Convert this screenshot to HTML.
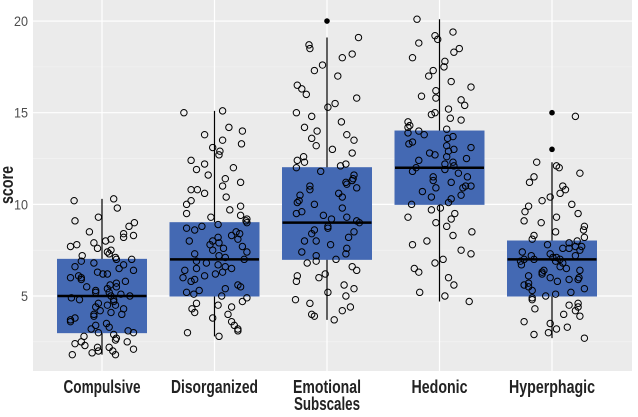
<!DOCTYPE html><html><head><meta charset="utf-8"><style>body{margin:0;background:#fff}svg{font-family:"Liberation Sans Narrow","Liberation Sans",sans-serif}</style></head><body>
<svg id="c" width="638" height="412"></svg>
<script>
const categories=["Compulsive","Disorganized","Emotional","Hedonic","Hyperphagic"];
const labelWidths=[77,87,68,56,86];
const q1=[3,5,7,10,5];
const medians=[5,7,9,12,7];
const q3=[7,9,12,14,8];
const whiskLo=[1.8,2.8,3.7,4.7,2.7];
const whiskHi=[10.3,15.1,19.1,20.1,12.3];
const outliers=[[],[],[20],[],[13,15]];
const yTicks=[5,10,15,20];
const pts=[
[1.8,2,2.2,2.5,2.8,3,3.2,3.5,3.8,4,4.2,4.5,4.8,5,5.2,5.5,5.8,6,6.2,6.5,6.8,7,7.2,7.5,7.8,8,8.2,8.5,9,9.3,9.8,10.2,10.3,2.3,3.1,4.4,5.1,6.1,7.4,8.8,1.9,2.7,4.9,5.6,6.9],
[2.8,3,3.4,3.8,4,4.3,4.7,5,5.3,5.6,6,6.2,6.5,6.8,7,7.3,7.6,8,8.2,8.5,8.8,9,9.3,9.7,10,10.4,10.8,11.2,11.6,12,12.4,12.9,13.3,13.8,14.2,15,15.1,5.1,6.4,7.1,7.8,8.4,4.6,9.1],
[3.7,4,4.4,4.8,5.2,5.6,6,6.4,6.8,7,7.4,7.8,8.2,8.6,9,9.4,9.8,10.2,10.6,11,11.4,11.8,12.2,12.6,13,13.5,14,14.5,15,15.5,16,16.5,17,17.6,18.2,18.7,19.1,8,9.2,10.5,11.1,6.2,12.1],
[4.7,5.2,6,6.5,7,7.5,8,8.5,9,9.5,10,10.3,10.7,11,11.3,11.7,12,12.2,12.5,12.8,13,13.3,13.6,14,14.3,14.7,15,15.4,15.9,16.4,17,17.5,18,18.5,19,19.4,20.1,11.5,12.6,13.8,10.9,14.2,9.8],
[2.7,3,3.3,3.6,4,4.3,4.6,5,5.2,5.5,5.8,6,6.2,6.5,6.7,7,7.2,7.4,7.6,7.8,8,8.3,8.6,9,9.3,9.6,10,10.4,10.8,11.2,11.7,12,12.3,14.8,6.9,7.1,5.9,6.4,7.7,4.8]
];
const pts2=[
[2.1,2.4,2.6,3.3,3.6,3.9,4.1,4.3,4.6,4.7,5.3,5.4,5.7,5.9,6.3,6.4,6.6,7.1,7.3,7.7,7.9,8.1,8.4,2,2.9,3.4,4.5,5.5,6,7.6,8.3,9.1,1.8,2.2,3.7,4,5,6.7,3,4.8,5.2,6.2,7,2.5],
[3.2,3.6,4.1,4.5,4.9,5.2,5.5,5.8,6.1,6.3,6.6,6.9,7.2,7.5,7.7,8.1,8.3,8.6,8.9,9.2,9.5,9.9,10.2,10.6,11,11.4,11.9,12.7,13.1,14,3.1,4.4,5.9,6.7,7.4,8.7,9.4,10.8,12.2,13.5,5.4,6.5,7.9,8],
[3.9,4.2,4.6,5,5.4,5.8,6.1,6.6,7.2,7.6,8,8.4,8.8,9.1,9.6,10,10.4,10.8,11.2,11.6,12,12.4,12.8,13.2,13.8,14.2,14.8,15.3,15.8,16.3,17.3,18,18.5,7.3,8.5,9.5,10.1,11.3,6.9,9.3,12.3,13.6,8.7,10.9],
[5,5.6,6.3,6.8,7.3,7.8,8.3,8.8,9.3,9.7,10.1,10.5,10.9,11.2,11.5,11.9,12.1,12.4,12.7,13.1,13.4,13.7,14.1,14.5,14.9,15.2,15.7,16.2,16.7,17.3,17.8,18.3,18.8,19.2,11,11.8,12.3,13.2,13.9,10.4,12.9,14.6,15.8,9.2],
[2.9,3.2,3.5,3.9,4.2,4.5,4.9,5.1,5.4,5.6,5.9,6.1,6.3,6.6,6.8,7,7.1,7.3,7.5,7.7,7.9,8.1,8.5,8.8,9.1,9.5,9.9,10.2,10.6,11,11.5,12.1,6,6.4,7.2,7.6,5.3,6.9,8.2,7,4.4,5.7]
];
const jit=[-.33,.12,-.05,.28,-.2,.35,-.12,.05,-.3,.22,-.02,.15,-.25,.31,.08,-.17,.26,-.35,.01,.19,-.09,.33,-.22,.1,-.28,.04,.24,-.14,.36,-.04,.17,-.31,.13,-.19,.29,-.07,.21,-.26,.06,.3,-.11,.16,-.34,.09,-.23];
const L=33,R=632,T=0,B=371,step=112.5,x0=102;
const X=i=>x0+i*step, Y=v=>296-(v-5)*18.33;
const s=document.getElementById('c'),NS="http://www.w3.org/2000/svg";
function mk(t,a,p){const e=document.createElementNS(NS,t);for(const k in a)e.setAttribute(k,a[k]);(p||s).appendChild(e);return e;}
const bg=mk('rect',{x:L,y:T,width:R-L,height:B-T,fill:'#ebebeb'});


[2.5,7.5,12.5,17.5].forEach(v=>{const g=mk('line',{x1:L,x2:R,y1:Y(v),y2:Y(v),stroke:'#f5f5f5','stroke-width':0.6});

});
yTicks.forEach(v=>{const g=mk('line',{x1:L,x2:R,y1:Y(v),y2:Y(v),stroke:'#fff','stroke-width':1.2});


const t=mk('text',{x:L-5,y:Y(v)+5,'text-anchor':'end','font-size':14,fill:'#4d4d4d',textLength:String(v).length*7,lengthAdjust:'spacingAndGlyphs'});t.textContent=v;

});
categories.forEach((c,i)=>{const g=mk('line',{x1:X(i),x2:X(i),y1:T,y2:B,stroke:'#fff','stroke-width':1.2});

});
categories.forEach((c,i)=>{const x=X(i),w=89;
const wl=mk('line',{x1:x,x2:x,y1:Y(whiskLo[i]),y2:Y(whiskHi[i]),stroke:'#000','stroke-width':1.2});


const b=mk('rect',{x:x-w/2,y:Y(q3[i]),width:w,height:Y(q1[i])-Y(q3[i]),fill:'#4469b3',stroke:'#4469b3'});


const m=mk('line',{x1:x-w/2,x2:x+w/2,y1:Y(medians[i]),y2:Y(medians[i]),stroke:'#000','stroke-width':2.5});


outliers[i].forEach(v=>{const o=mk('circle',{cx:x,cy:Y(v),r:2.8,fill:'#000'});

});
pts[i].forEach((v,j)=>{const p=mk('circle',{cx:x+jit[(j+i*7)%jit.length]*step*0.8,cy:Y(v),r:3.2,fill:'none',stroke:'#000','stroke-width':1});

});
pts2[i].forEach((v,j)=>{const p=mk('circle',{cx:x+jit[(j*3+i*11+5)%jit.length]*step*0.8,cy:Y(v),r:3.2,fill:'none',stroke:'#000','stroke-width':1});

});
const t=mk('text',{x:x,y:393,'text-anchor':'middle','font-size':18,'font-weight':'bold',fill:'#222',textLength:labelWidths[i],lengthAdjust:'spacingAndGlyphs'});t.textContent=c;

});
const xt=mk('text',{x:X(2),y:410,'text-anchor':'middle','font-size':18,'font-weight':'bold',fill:'#222',textLength:66,lengthAdjust:'spacingAndGlyphs'});xt.textContent='Subscales';


const yt=mk('text',{x:13,y:185,'text-anchor':'middle','font-size':18,'font-weight':'bold',fill:'#222',textLength:38,lengthAdjust:'spacingAndGlyphs',transform:'rotate(-90 13 185)'});yt.textContent='score';


</script></body></html>
